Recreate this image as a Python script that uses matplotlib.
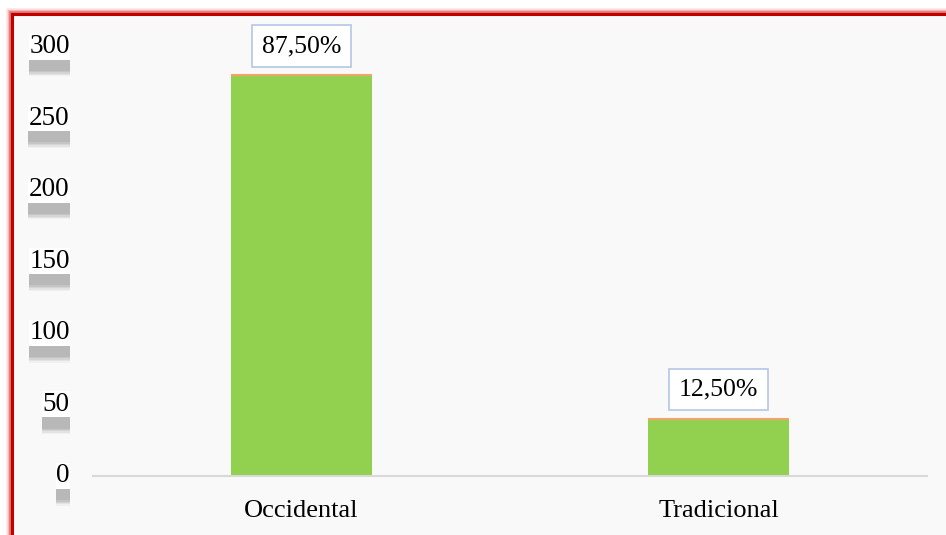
import matplotlib.pyplot as plt
import matplotlib.patheffects as pe
from matplotlib.patches import Rectangle

categories = ['Occidental', 'Tradicional']
values = [280, 40]
labels = ['87,50%', '12,50%']
yticks = [0, 50, 100, 150, 200, 250, 300]

plt.rcParams['font.family'] = ['Liberation Serif', 'DejaVu Serif']

W, H = 946, 535
fig = plt.figure(figsize=(W / 100, H / 100), dpi=100, facecolor='white')

# chart area background with red frame and soft glow
for lw, a in [(9, 0.12), (6, 0.25), (4, 0.5)]:
    fig.patches.append(Rectangle((12 / W, -0.1), 1.2, (H - 14) / H + 0.1,
                                 transform=fig.transFigure, fill=False,
                                 edgecolor='#d9302a', lw=lw, alpha=a, zorder=-3))
fig.patches.append(Rectangle((12 / W, -0.1), 1.2, (H - 14) / H + 0.1,
                             transform=fig.transFigure, facecolor='#f9f9f9',
                             edgecolor='#c00000', lw=2.2, zorder=-2))

ax = fig.add_axes([93 / W, 59 / H, 834 / W, 458 / H])
ax.set_facecolor('none')

x = range(len(categories))
bars = ax.bar(x, values, width=0.336, color='#92d050', zorder=2)
for b, lab in zip(bars, labels):
    ax.plot([b.get_x(), b.get_x() + b.get_width()], [b.get_height()] * 2,
            color='#f4a46a', lw=1.5, zorder=3, solid_capstyle='butt')
    ax.annotate(lab, (b.get_x() + b.get_width() / 2, b.get_height()),
                xytext=(0, 21), textcoords='offset points', ha='center', va='center',
                fontsize=18.5, color='black',
                bbox=dict(boxstyle='square,pad=0.38', facecolor='white',
                          edgecolor='#b4c7e7', lw=1.2))

ax.set_xlim(-0.5, 1.5)
ax.set_ylim(0, 320)
ax.set_xticks(list(x))
ax.set_xticklabels(categories, fontsize=19)
ax.tick_params(axis='x', length=0, pad=17)

ax.set_yticks(yticks)
ax.set_yticklabels([])
ax.tick_params(axis='y', length=0)
# tick labels on small white boxes with a soft drop shadow
shadow = [pe.SimplePatchShadow(offset=(0, dy), shadow_rgbFace='#7a7a7a', alpha=a)
          for dy, a in [(-12, 0.07), (-11, 0.1), (-10, 0.14), (-9, 0.16), (-8, 0.16)]]
for v in yticks:
    t = ax.text(-0.028, v, str(v), transform=ax.get_yaxis_transform(),
                ha='right', va='center', fontsize=19.5,
                bbox=dict(boxstyle='square,pad=0.02', facecolor='white', edgecolor='none'))
    t.get_bbox_patch().set_path_effects(shadow + [pe.Normal()])

for s in ['top', 'right', 'left']:
    ax.spines[s].set_visible(False)
ax.spines['bottom'].set_color('#d9d9d9')
ax.spines['bottom'].set_linewidth(1.5)

fig.savefig('out.png', dpi=100, facecolor='white')
